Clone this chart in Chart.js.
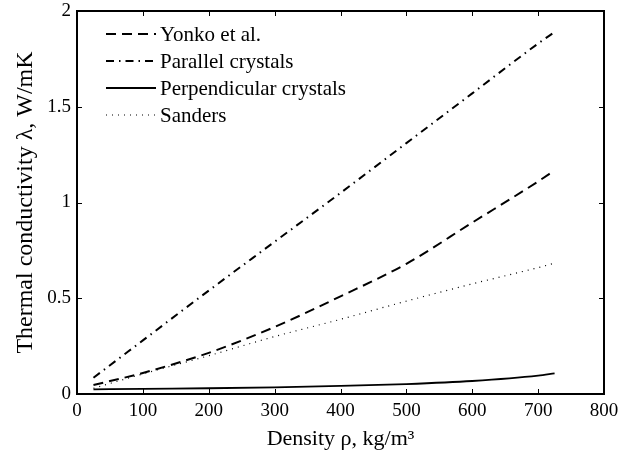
<!DOCTYPE html>
<html>
<head>
<meta charset="utf-8">
<script src="https://cdn.jsdelivr.net/npm/chart.js@4"></script>
<style>
  html, body { margin: 0; padding: 0; background: #fff; }
</style>
</head>
<body>
<canvas id="conductivityChart" width="632" height="456"></canvas>
<script>
"use strict";

// values
let density = [25, 100, 200, 300, 400, 500, 600, 700, 725];
let yonko = [0.047, 0.11, 0.215, 0.35, 0.51, 0.68, 0.895, 1.11, 1.168];
let parallel = [0.085, 0.28, 0.54, 0.795, 1.05, 1.31, 1.57, 1.83, 1.89];
let perpendicular = [0.024, 0.027, 0.03, 0.035, 0.042, 0.052, 0.068, 0.096, 0.108];
let sanders = [0.03, 0.105, 0.2, 0.3, 0.39, 0.485, 0.575, 0.66, 0.683];

let xTicks = [0, 100, 200, 300, 400, 500, 600, 700, 800];
let yTicks = [0, 0.5, 1, 1.5, 2];
let yTickLabels = ["0", "0.5", "1", "1.5", "2"];

const serif = "'Liberation Serif', 'DejaVu Serif', serif";

function points(values) {
  return density.map((d, i) => ({ x: d, y: values[i] }));
}

function line(label, values, dash, width) {
  return {
    label: label,
    data: points(values),
    borderColor: "#000",
    borderWidth: width,
    borderDash: dash,
    pointRadius: 0,
    fill: false,
    cubicInterpolationMode: "monotone"
  };
}

// frame, inward ticks on all four sides and the legend inside the plot
const matlabFrame = {
  id: "matlabFrame",
  afterDraw(chart) {
    const ctx = chart.ctx;
    const a = chart.chartArea;
    const xs = chart.scales.x;
    const ys = chart.scales.y;
    const tl = 5;
    ctx.save();
    ctx.strokeStyle = "#000";
    ctx.lineWidth = 1;
    ctx.beginPath();
    xTicks.forEach(v => {
      const px = Math.round(xs.getPixelForValue(v)) + 0.5;
      ctx.moveTo(px, a.bottom);
      ctx.lineTo(px, a.bottom - tl);
      ctx.moveTo(px, a.top);
      ctx.lineTo(px, a.top + tl);
    });
    yTicks.forEach(v => {
      const py = Math.round(ys.getPixelForValue(v)) + 0.5;
      ctx.moveTo(a.left, py);
      ctx.lineTo(a.left + tl, py);
      ctx.moveTo(a.right, py);
      ctx.lineTo(a.right - tl, py);
    });
    ctx.stroke();
    ctx.lineWidth = 2;
    ctx.strokeRect(a.left, a.top, a.right - a.left, a.bottom - a.top);

    // legend
    ctx.font = "21px " + serif;
    ctx.fillStyle = "#000";
    ctx.textBaseline = "middle";
    chart.data.datasets.forEach((ds, i) => {
      const y = a.top + 23 + i * 27;
      ctx.beginPath();
      ctx.lineWidth = ds.borderWidth;
      ctx.setLineDash(ds.borderDash);
      ctx.moveTo(a.left + 29, y);
      ctx.lineTo(a.left + 79, y);
      ctx.stroke();
      ctx.setLineDash([]);
      ctx.fillText(ds.label, a.left + 83, y + 1);
    });
    ctx.restore();
  }
};

function displayChart() {
  new Chart(document.getElementById("conductivityChart"), {
    type: "line",
    data: {
      datasets: [
        line("Yonko et al.", yonko, [10, 6], 2),
        line("Parallel crystals", parallel, [8, 5, 1.5, 5], 2),
        line("Perpendicular crystals", perpendicular, [], 1.8),
        line("Sanders", sanders, [1, 5], 1.2)
      ]
    },
    options: {
      responsive: false,
      animation: false,
      layout: { padding: { top: 11, right: 28, left: 0, bottom: 0 } },
      plugins: {
        legend: { display: false },
        tooltip: { enabled: false }
      },
      scales: {
        x: {
          type: "linear",
          min: 0,
          max: 800,
          afterBuildTicks: scale => { scale.ticks = xTicks.map(v => ({ value: v })); },
          afterFit: scale => {
            scale.height = 62;
            scale.paddingLeft = 0;
            scale.paddingRight = 0;
          },
          grid: { display: false, drawTicks: false },
          border: { display: false },
          ticks: {
            color: "#000",
            font: { family: serif, size: 19 },
            padding: 6,
            maxRotation: 0,
            autoSkip: false
          },
          title: {
            display: true,
            text: "Density ρ, kg/m³",
            color: "#000",
            font: { family: serif, size: 22 },
            padding: { top: 0, bottom: 4 }
          }
        },
        y: {
          min: 0,
          max: 2,
          afterBuildTicks: scale => { scale.ticks = yTicks.map(v => ({ value: v })); },
          afterFit: scale => {
            scale.width = 77;
            scale.paddingTop = 0;
            scale.paddingBottom = 0;
          },
          grid: { display: false, drawTicks: false },
          border: { display: false },
          ticks: {
            color: "#000",
            font: { family: serif, size: 19 },
            padding: 6,
            autoSkip: false,
            callback: (value, i) => yTickLabels[i]
          },
          title: {
            display: true,
            text: "Thermal conductivity λ, W/mK",
            color: "#000",
            font: { family: serif, size: 24 },
            padding: { top: 11, bottom: 0 }
          }
        }
      }
    },
    plugins: [matlabFrame]
  });
}

window.addEventListener("load", displayChart);
</script>
</body>
</html>
